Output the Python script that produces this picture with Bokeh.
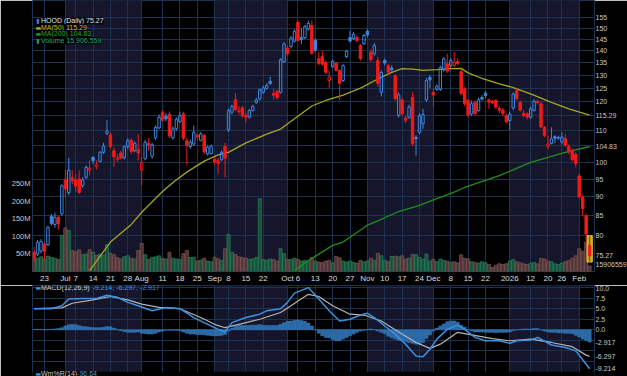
import numpy as np
from bokeh.plotting import figure
from bokeh.layouts import column
from bokeh.models import Range1d, LinearAxis, LinearScale, FixedTicker, Label, ColumnDataSource
from bokeh.embed import file_html
from bokeh.resources import INLINE

# ---------------- data (trading-day index: 0 = 2025-07-01) ----------------
day_idx = list(range(-9, 152))

opens = [76.1, 75.7, 76.4, 78.0, 77.9, 84.8, 82.8, 84.6, 85.5,
         94.8, 91.2, 95.4, 94.8, 95.0, 93.1, 95.5, 97.6, 101.4, 98.6,
         100.2, 103.0, 109.0, 108.6, 103.5, 100.8, 102.8, 101.3, 104.8, 106.8,
         103.5, 103.8, 97.6, 101.0, 105.8, 101.8, 107.6, 110.9, 116.3, 114.9,
         115.6, 107.7, 110.6, 113.0, 115.7, 106.7, 104.8, 105.6, 108.4, 106.8,
         108.4, 102.5, 102.6, 100.8, 100.4, 100.7, 104.8, 110.2, 116.3, 120.8,
         116.5, 117.9, 115.2, 114.6, 116.9, 119.8, 121.0, 123.5, 125.0, 127.7,
         123.2, 123.9, 123.5, 135.5, 141.2, 141.9, 144.2, 152.7, 145.8, 145.8,
         149.6, 151.2, 144.5, 136.7, 137.7, 135.3, 128.0, 133.5, 134.9, 131.9,
         128.0, 137.6, 145.8, 145.3, 145.8, 142.3, 143.1, 148.6, 139.5, 138.8,
         136.0, 123.5, 136.0, 133.9, 132.9, 129.9, 115.1, 120.7, 114.3, 114.5,
         121.7, 107.8, 109.4, 112.3, 120.7, 129.2, 123.5, 124.6, 124.6, 132.2,
         134.6, 133.9, 134.0, 135.6, 131.5, 124.8, 120.5, 115.7, 119.8, 116.9,
         121.6, 123.2, 120.7, 120.3, 120.5, 117.6, 117.1, 115.1, 113.4, 117.8,
         124.2, 119.8, 115.9, 115.7, 114.5, 116.9, 120.1, 119.3, 111.1, 104.8,
         105.8, 108.0, 107.5, 106.3, 107.4, 104.8, 103.5, 102.3, 95.9, 89.9,
         85.0, 77.7]
highs = [77.3, 79.0, 79.2, 78.5, 82.5, 85.5, 85.8, 85.0, 93.5,
         97.5, 101.3, 97.5, 96.5, 97.5, 95.5, 99.0, 100.5, 101.8, 100.5,
         103.5, 106.0, 113.5, 109.5, 104.5, 102.5, 103.5, 105.2, 107.5, 107.5,
         106.5, 108.8, 101.5, 107.0, 107.5, 106.0, 111.8, 115.5, 117.0, 116.0,
         116.5, 111.5, 114.5, 116.5, 116.5, 107.5, 107.0, 111.7, 109.2, 109.5,
         109.0, 105.2, 105.5, 101.5, 101.3, 103.5, 106.0, 117.5, 119.0, 123.2,
         118.5, 118.5, 116.0, 117.5, 119.0, 121.5, 125.0, 126.0, 127.0, 129.5,
         124.8, 124.5, 137.0, 143.8, 142.3, 146.5, 149.5, 153.5, 150.0, 151.5,
         153.5, 153.5, 145.5, 139.5, 140.0, 136.0, 131.9, 136.5, 135.5, 132.5,
         134.5, 140.5, 148.8, 148.2, 146.8, 143.0, 147.5, 149.5, 140.5, 143.5,
         137.5, 132.0, 136.8, 134.5, 134.0, 130.5, 123.5, 121.5, 115.0, 119.0,
         123.5, 108.5, 116.0, 117.5, 129.0, 130.0, 125.0, 126.5, 134.0, 137.5,
         138.8, 137.0, 139.5, 137.0, 132.5, 125.5, 121.0, 120.5, 120.5, 121.5,
         122.5, 124.0, 121.3, 120.6, 121.0, 118.5, 117.8, 115.8, 116.5, 123.5,
         125.0, 120.5, 117.0, 116.2, 118.3, 121.0, 120.8, 120.0, 111.5, 108.3,
         111.1, 108.5, 108.3, 109.5, 109.0, 105.5, 104.2, 103.0, 96.5, 90.5,
         85.5, 80.0]
lows = [73.9, 75.2, 75.8, 74.6, 77.5, 82.5, 82.0, 81.5, 85.0,
        89.8, 90.5, 93.5, 91.5, 90.8, 92.5, 95.0, 96.0, 99.5, 97.8,
        99.8, 102.5, 108.5, 104.0, 98.5, 100.0, 100.8, 100.8, 104.0, 102.5,
        103.0, 100.5, 93.2, 100.5, 103.5, 101.0, 107.0, 110.5, 113.0, 113.2,
        107.5, 107.0, 110.0, 112.5, 106.8, 99.0, 104.0, 105.0, 107.0, 106.5,
        102.5, 102.0, 102.3, 99.2, 96.5, 100.3, 95.5, 109.5, 115.5, 116.8,
        115.5, 114.5, 112.8, 114.0, 116.5, 119.3, 120.5, 123.0, 124.5, 126.2,
        120.7, 120.8, 123.0, 135.0, 138.0, 141.0, 143.5, 144.0, 143.0, 145.0,
        149.0, 138.5, 139.5, 134.0, 134.0, 130.5, 125.1, 133.0, 131.5, 120.5,
        127.5, 137.0, 143.5, 144.8, 143.8, 136.0, 142.5, 145.8, 135.5, 138.0,
        125.5, 122.0, 134.0, 130.5, 131.5, 120.5, 114.5, 115.0, 112.6, 114.0,
        105.0, 102.0, 108.8, 110.6, 120.0, 125.0, 118.2, 124.0, 124.0, 131.5,
        131.0, 133.0, 133.3, 134.0, 122.5, 118.5, 114.5, 115.0, 115.0, 116.5,
        120.5, 121.5, 117.5, 119.2, 117.5, 116.0, 115.0, 112.5, 110.2, 117.0,
        120.5, 116.5, 114.5, 113.8, 114.0, 116.5, 119.0, 110.8, 107.8, 104.1,
        105.5, 106.0, 107.0, 105.5, 104.8, 102.5, 100.2, 98.4, 89.5, 84.8,
        78.1, 73.9]
closes = [75.0, 78.4, 78.6, 76.3, 82.0, 83.0, 84.6, 83.0, 93.1,
          92.2, 97.5, 94.5, 93.0, 91.2, 94.8, 98.4, 98.2, 100.4, 99.2,
          103.0, 105.0, 109.8, 104.8, 101.6, 101.4, 101.2, 104.8, 106.8, 103.2,
          105.8, 102.8, 99.8, 106.1, 105.2, 105.4, 111.1, 114.5, 113.5, 114.0,
          108.2, 110.6, 113.9, 115.1, 107.5, 105.2, 106.2, 109.4, 107.9, 108.9,
          103.1, 104.6, 104.8, 100.0, 99.6, 103.0, 101.2, 116.9, 118.3, 117.2,
          117.0, 115.0, 114.6, 116.9, 118.3, 120.7, 124.4, 125.2, 126.1, 126.9,
          122.4, 121.5, 136.3, 143.0, 138.9, 145.6, 148.6, 144.5, 144.9, 150.7,
          152.2, 139.0, 140.3, 134.8, 134.5, 131.3, 129.4, 135.6, 132.0, 127.0,
          133.9, 139.9, 144.3, 147.3, 144.5, 136.8, 146.7, 146.9, 136.4, 142.3,
          126.9, 131.2, 135.0, 131.3, 132.2, 121.2, 122.6, 115.8, 113.5, 118.1,
          105.8, 107.3, 115.1, 115.5, 128.0, 128.3, 122.5, 125.8, 133.2, 136.7,
          131.7, 136.0, 135.3, 134.7, 123.0, 119.3, 115.3, 119.3, 115.8, 120.8,
          121.0, 122.3, 119.9, 119.7, 118.1, 117.0, 115.8, 112.9, 115.6, 122.9,
          121.1, 117.0, 115.2, 114.6, 117.5, 120.2, 119.7, 111.2, 108.4, 105.6,
          107.3, 107.5, 107.7, 107.9, 105.2, 103.1, 100.8, 99.6, 90.0, 86.9,
          80.4, 75.27]
volume_m = [40, 38, 42, 36, 44, 40, 38, 34, 103,
            125, 117, 60, 56, 62, 48, 50, 62, 55, 46,
            50, 47, 77, 52, 48, 40, 36, 42, 45, 38,
            36, 60, 80, 48, 35, 40, 42, 45, 38, 36,
            55, 38, 36, 34, 51, 60, 40, 41, 30, 33,
            38, 30, 28, 41, 36, 32, 65, 106, 55, 49,
            42, 40, 38, 35, 36, 40, 208, 34, 32, 36,
            34, 30, 65, 51, 34, 35, 38, 35, 30, 32,
            28, 40, 30, 27, 26, 30, 32, 25, 43, 39,
            30, 27, 30, 26, 24, 32, 28, 30, 38, 32,
            52, 45, 32, 28, 43, 44, 42, 45, 35, 38,
            49, 48, 40, 35, 50, 30, 35, 28, 36, 32,
            30, 26, 28, 25, 48, 38, 36, 28, 26, 24,
            28, 25, 20, 12, 18, 22, 20, 22, 30, 34,
            28, 25, 22, 20, 24, 26, 22, 37, 36, 30,
            28, 22, 20, 24, 28, 32, 38, 45, 65, 58,
            84, 15.9]

ma50_idx = [7, 13, 19, 22, 28, 31, 35, 40, 44, 47, 52, 58, 62, 66, 71, 75, 80, 85, 90, 94,
            97, 100, 103, 107, 111, 114, 116, 120, 125, 129, 134, 140, 145, 150, 151]
ma50_val = [72.0, 78.5, 82.8, 85.9, 91.5, 94.0, 97.0, 100.3, 102.2, 103.0, 106.0, 108.8, 110.5,
            114.0, 118.5, 120.5, 122.5, 125.1, 128.6, 131.2, 132.7, 132.5, 132.0, 132.3, 132.7,
            132.8, 131.0, 128.8, 126.7, 125.3, 122.9, 119.8, 117.5, 115.6, 115.29]
ma200_idx = [66, 70, 77, 80, 87, 89, 96, 102, 106, 112, 115, 125, 134, 144, 151]
ma200_val = [72.0, 74.2, 77.7, 78.5, 82.6, 83.3, 86.1, 87.7, 89.2, 91.3, 92.6, 96.0, 99.9, 103.0, 104.83]

macd_idx = [-9, -4, -1, 1, 5, 9, 12, 15, 18, 21, 25, 29, 33, 37, 41, 44, 46, 48, 52, 56,
            58, 62, 64, 66, 70, 73, 76, 79, 82, 85, 87, 89, 92, 95, 98, 101, 103, 105, 107, 110,
            113, 115, 118, 121, 125, 128, 130, 134, 136, 140, 144, 147, 149, 151]
macd_val = [5.0, 5.0, 5.7, 7.3, 7.4, 7.4, 8.2, 7.7, 6.5, 5.7, 4.5, 5.3, 5.0, 2.9, 1.3, 0.1, -0.5, 1.7, 2.9, 3.7,
            4.5, 5.0, 6.5, 8.7, 10.0, 7.3, 4.5, 2.1, 2.5, 3.5, 3.9, 2.9, 0.9, -1.0, -3.4, -6.2, -6.4, -4.6, -2.2, 0.1,
            1.1, 0.1, -1.8, -2.6, -2.6, -3.2, -2.6, -2.4, -1.8, -3.6, -4.2, -5.0, -7.1, -9.214]
signal_idx = [-9, -1, 2, 8, 13, 18, 22, 27, 33, 39, 43, 46, 50, 56, 62, 65, 67, 70, 73, 77,
              82, 86, 91, 96, 101, 105, 108, 113, 117, 123, 128, 134, 140, 146, 150, 151]
signal_val = [5.0, 5.2, 6.3, 7.1, 7.9, 7.1, 6.1, 5.3, 5.0, 2.9, 1.3, 0.5, 1.3, 2.5, 4.1, 5.7, 6.8, 8.4, 7.9, 5.7,
              3.7, 3.5, 2.1, -0.5, -3.0, -4.4, -3.4, -0.6, -1.2, -2.1, -2.6, -2.2, -3.0, -4.0, -6.0, -6.297]
macd_hist = [0.1, 0.1, 0.1, 0.0, 0.0, 0.1, 0.2, 0.3, 0.5,
             0.9, 1.2, 1.3, 1.2, 1.0, 0.8, 0.7, 0.6, 0.5, 0.5,
             0.5, 0.6, 0.8, 0.7, 0.4, 0.1, -0.2, -0.4, -0.6, -0.6,
             -0.6, -0.5, -0.8, -0.9, -1.0, -1.0, -0.8, -0.5, -0.3, -0.1,
             -0.1, -0.1, -0.1, -0.2, -0.5, -0.8, -1.0, -1.0, -1.1, -1.1,
             -1.2, -1.3, -1.4, -1.4, -1.4, -1.3, -1.1, -0.3, 0.4, 0.8,
             1.0, 1.0, 1.0, 1.0, 1.1, 1.1, 1.2, 1.1, 1.0, 1.0,
             1.0, 1.0, 1.3, 1.7, 2.0, 2.1, 2.2, 2.3, 2.2, 2.0,
             1.6, 0.9, 0.0, -0.8, -1.4, -1.8, -1.9, -2.3, -2.6, -2.6,
             -2.2, -1.8, -1.4, -1.0, -0.6, -0.3, -0.1, 0.1, 0.2, 0.0,
             -0.3, -0.6, -0.9, -1.5, -1.9, -2.2, -2.5, -2.6, -2.8, -3.0,
             -3.2, -3.4, -3.4, -3.0, -2.0, -1.2, -0.3, 0.4, 0.9, 1.4,
             1.9, 2.1, 2.1, 1.8, 1.1, 0.6, 0.0, -0.3, -0.5, -0.5,
             -0.5, -0.6, -0.6, -0.6, -0.7, -0.6, -0.6, -0.6, -0.5, -0.2,
             0.0, 0.1, 0.2, 0.2, 0.2, 0.3, 0.3, 0.0, -0.3, -0.5,
             -0.6, -0.6, -0.7, -0.7, -0.8, -0.8, -0.9, -1.3, -1.7, -2.2,
             -2.5, -2.917]

week_idx = [-6, 3, 8, 13, 18, 28, 33, 38, 47, 52, 57, 67, 72, 77, 82, 92, 97, 102, 111, 116, 121, 134, 139, 143]
week_labels = ["23", "7", "14", "21", "28", "11", "18", "25", "8", "15", "22", "6", "13", "20", "27",
               "10", "17", "24", "8", "15", "22", "12", "20", "26"]
month_idx = [0, 22, 43, 64, 87, 106, 128, 148]
month_labels = ["Jul", "Aug", "Sep", "Oct", "Nov", "Dec", "2026", "Feb"]

price_grid = [80, 85, 90, 95, 100, 105, 110, 115, 120, 125, 130, 135, 140, 145, 150, 155]
price_axis_ticks = [73.3, 75.27, 80, 85, 90, 95, 100, 104.83, 110, 115.29, 120, 125, 130, 135, 140, 145, 150, 155]
price_axis_labels = ["15906559", "75.27", "80", "85", "90", "95", "100", "104.83", "110", "115.29",
                     "120", "125", "130", "135", "140", "145", "150", "155"]
vol_ticks = [50, 100, 150, 200, 250]
vol_tick_labels = ["50M", "100M", "150M", "200M", "250M"]
macd_grid = [-10, -7.5, -5, -2.5, 0, 2.5, 5, 7.5, 10]
macd_axis_ticks = [-9.214, -6.297, -2.917, 0, 2.5, 5, 7.5, 10]
macd_axis_labels = ["-9.214", "-6.297", "-2.917", "0.0", "2.5", "5.0", "7.5", "10.0"]

# ---------------- styling ----------------
BG = "#000000"
GRID = "#1a3350"
SHADE = "#15152b"
BLUE = "#3f86dc"
RED = "#f01a1a"
AXT = "#c8c8c8"
FONT = "Liberation Sans"
FRAME_W = 562

n = len(day_idx)
up = [False] + [closes[k] >= closes[k - 1] for k in range(1, n)]
col = [BLUE if u else RED for u in up]
src = ColumnDataSource(dict(
    x=day_idx, o=opens, h=highs, l=lows, c=closes,
    btop=[max(a, b) for a, b in zip(opens, closes)],
    bbot=[min(a, b) for a, b in zip(opens, closes)],
    col=col,
    fa=[0.0 if c > o else 1.0 for o, c in zip(opens, closes)],
    vol=volume_m,
    vfill=["#18573e" if u else "#583a3a" for u in up],
    vline=["#2c8e64" if u else "#8e5e5e" for u in up],
    hist=macd_hist,
))

x_range = Range1d(-9.45, 152.4)
grid_ticks = sorted(week_idx + month_idx)
date_ticks = week_idx + month_idx
date_labels = week_labels + month_labels
bands = dict(left=[month_idx[k] for k in (0, 2, 4, 6)], right=[month_idx[k + 1] for k in (0, 2, 4, 6)])


def style_axis(ax, standoff=1, size="7px"):
    ax.axis_line_color = None
    ax.major_tick_line_color = None
    ax.minor_tick_line_color = None
    ax.major_tick_out = 0
    ax.major_tick_in = 0
    ax.minor_tick_out = 0
    ax.major_label_text_color = AXT
    ax.major_label_text_font = FONT
    ax.major_label_text_font_size = size
    ax.major_label_standoff = standoff


def add_label(fig, x, y, text, color, size="7px", bold=False, bg=None, font=FONT):
    fig.add_layout(Label(x=x, y=y, text=text, text_color=color, text_font_size=size, text_font=font,
                         text_font_style="bold" if bold else "normal", text_baseline="middle",
                         text_align="left", background_fill_color=bg,
                         background_fill_alpha=0.85 if bg else 1.0))


# ---------------- price panel ----------------
p = figure(frame_width=FRAME_W, frame_height=271, x_range=x_range, y_range=Range1d(71.8, 163.1),
           y_axis_type="log", y_axis_location="right", output_backend="svg", toolbar_location=None,
           min_border_left=32, min_border_right=33, min_border_top=0, min_border_bottom=12,
           background_fill_color=BG, border_fill_color=BG, outline_line_color=GRID)
p.extra_y_ranges = {"vol": Range1d(0, 774)}
p.extra_y_scales = {"vol": LinearScale()}

p.quad(left=bands["left"], right=bands["right"], bottom=1, top=1000, fill_color=SHADE,
       line_color=None, level="image")
p.xgrid.ticker = FixedTicker(ticks=grid_ticks)
p.ygrid.ticker = FixedTicker(ticks=price_grid)
p.grid.grid_line_color = GRID
p.grid.grid_line_width = 1

pax = p.right[0]
pax.ticker = FixedTicker(ticks=price_axis_ticks)
pax.major_label_overrides = dict(zip(price_axis_ticks, price_axis_labels))
vax = LinearAxis(y_range_name="vol", ticker=FixedTicker(ticks=vol_ticks),
                 major_label_overrides=dict(zip(vol_ticks, vol_tick_labels)))
p.add_layout(vax, "left")
p.xaxis.ticker = FixedTicker(ticks=date_ticks)
p.xaxis.major_label_overrides = dict(zip(date_ticks, date_labels))
for ax in p.axis:
    style_axis(ax)
vax.major_label_text_font_size = "7.5px"
vax.major_label_standoff = 2
p.xaxis.major_label_standoff = 2
p.xaxis.major_label_text_color = "#dcdcdc"
p.xaxis.major_label_text_font_size = "8px"

p.vbar(x="x", width=0.9, top="vol", bottom=0, source=src, y_range_name="vol",
       fill_color="vfill", line_color="vline", line_width=0.6, fill_alpha=0.9)
p.line(ma50_idx, ma50_val, line_color="#a7a61f", line_width=1.3)
p.line(ma200_idx, ma200_val, line_color="#1f8f1f", line_width=1.3)

# highlight of the latest bar
p.quad(left=[day_idx[-1] - 0.75], right=[day_idx[-1] + 0.75], bottom=[lows[-1]], top=[highs[-1]],
       fill_color="#c4a21a", line_color="#ecd040", line_width=1)

p.segment(x0="x", y0="h", x1="x", y1="btop", line_color="col", line_width=1, source=src)
p.segment(x0="x", y0="bbot", x1="x", y1="l", line_color="col", line_width=1, source=src)
p.vbar(x="x", width=0.7, top="btop", bottom="bbot", fill_color="col", fill_alpha="fa",
       line_color="col", line_width=1, source=src)

# legend rows
add_label(p, -8.4, 153.4, "\u25ae", BLUE, size="6px", font="DejaVu Sans")
add_label(p, -7.0, 153.4, "HOOD (Daily) 75.27", "#e0e0e0", bg="#000000")
add_label(p, -8.6, 150.4, "\u25ac", "#b0b020", size="6px", font="DejaVu Sans")
add_label(p, -7.0, 150.4, "MA(50) 115.29", "#c4c21e", bg="#000000")
add_label(p, -8.6, 147.4, "\u25ac", "#22a022", size="6px", font="DejaVu Sans")
add_label(p, -7.0, 147.4, "MA(200) 104.83", "#2aa62a", bg="#000000")
add_label(p, -8.4, 144.4, "\u25ae", "#1e9a6a", size="6px", font="DejaVu Sans")
add_label(p, -7.0, 144.4, "Volume 15,906,559", "#22a874", bg="#000000")

# ---------------- MACD panel ----------------
p2 = figure(frame_width=FRAME_W, frame_height=93, x_range=x_range, y_range=Range1d(-11.54, 10.5),
            x_axis_location=None, y_axis_location="right", output_backend="svg", toolbar_location=None,
            min_border_left=32, min_border_right=33, min_border_top=0, min_border_bottom=0,
            background_fill_color=BG, border_fill_color=BG, outline_line_color=GRID)
p2.quad(left=bands["left"], right=bands["right"], bottom=-20, top=20, fill_color=SHADE,
        line_color=None, level="image")
p2.xgrid.ticker = FixedTicker(ticks=grid_ticks)
p2.ygrid.ticker = FixedTicker(ticks=macd_grid)
p2.grid.grid_line_color = GRID
max_ = p2.right[0]
max_.ticker = FixedTicker(ticks=macd_axis_ticks)
max_.major_label_overrides = dict(zip(macd_axis_ticks, macd_axis_labels))
for ax in p2.axis:
    style_axis(ax)

p2.quad(left=[-20], right=[200], bottom=[-20], top=[-9.95], fill_color=BG, line_color=None)
p2.vbar(x="x", width=0.9, top="hist", bottom=0, source=src, fill_color="#2b69a6",
        line_color="#3a80c4", line_width=0.5)
p2.line(signal_idx, signal_val, line_color="#b4b4b4", line_width=1.2)
p2.line(macd_idx, macd_val, line_color="#3a92e4", line_width=1.5)

add_label(p2, -8.6, 10.0, "\u25ac", "#3a92e4", size="6px", font="DejaVu Sans")
add_label(p2, -7.0, 10.0, "MACD(12,26,9)", "#d0d0d0")
add_label(p2, 7.8, 10.0, "-9.214, -6.297, -2.917", "#4a94dc")
add_label(p2, -8.6, -10.35, "\u25ac", "#3a92e4", size="6px", font="DejaVu Sans")
add_label(p2, -7.0, -10.35, "Wm%R(14)", "#c0c0c0")
add_label(p2, 3.4, -10.35, "-96.64", "#4a94dc")

layout = column(p, p2, spacing=0)
open("out.html", "w").write(file_html(layout, INLINE))
